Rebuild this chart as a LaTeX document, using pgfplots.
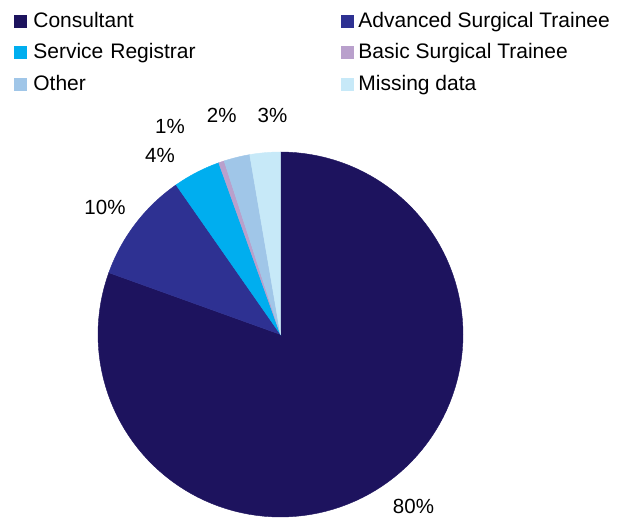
\documentclass[border=0pt]{standalone}
\usepackage{fontspec}
\setmainfont{Liberation Sans}
\usepackage{pgfplots}
\pgfplotsset{compat=1.18}
\definecolor{cA}{RGB}{29,19,94}
\definecolor{cB}{RGB}{46,49,146}
\definecolor{cC}{RGB}{0,174,239}
\definecolor{cD}{RGB}{185,160,204}
\definecolor{cE}{RGB}{160,198,232}
\definecolor{cF}{RGB}{199,233,248}
% slice values (percent)
\def\vA{80.5}\def\vB{9.8}\def\vC{4.2}\def\vD{0.5}\def\vE{2.3}\def\vF{2.7}
\pgfmathsetmacro\aA{90-3.6*\vA}
\pgfmathsetmacro\aB{\aA-3.6*\vB}
\pgfmathsetmacro\aC{\aB-3.6*\vC}
\pgfmathsetmacro\aD{\aC-3.6*\vD}
\pgfmathsetmacro\aE{\aD-3.6*\vE}
\pgfmathsetmacro\aF{\aE-3.6*\vF}
\def\cx{280.5}\def\cy{334.5}\def\rr{182.5}
\begin{document}
\begin{tikzpicture}
\begin{axis}[
  width=619bp, height=523bp, scale only axis,
  xmin=0, xmax=619, ymin=0, ymax=523, y dir=reverse,
  hide axis, clip=false,
  samples=120, variable=\t,
  legend columns=2,
  legend cell align=left,
  legend image code/.code={\fill[#1] (0bp,-6bp) rectangle (12bp,6bp);},
  legend style={
    at={(axis description cs:0.0226,0.9795)}, anchor=north west,
    draw=none, fill=none, inner sep=0pt, outer sep=0pt,
    font=\fontsize{21bp}{24bp}\selectfont,
    row sep=10.8bp,
    nodes={inner sep=0pt, anchor=west, text height=16.6bp, text depth=4bp},
    /tikz/column 1/.style={column sep=7bp},
    /tikz/column 2/.style={column sep=137.7bp, nodes={text width=170bp, align=left}},
    /tikz/column 3/.style={column sep=5bp},
  },
]
\addplot[fill=cA, draw=cA, line width=0.4bp, domain=\aA:90] ({\cx+\rr*cos(\t)},{\cy-\rr*sin(\t)}) -- (axis cs:\cx,\cy) -- cycle;
\addlegendentry{Consultant}
\addplot[fill=cB, draw=cB, line width=0.4bp, domain=\aB:\aA] ({\cx+\rr*cos(\t)},{\cy-\rr*sin(\t)}) -- (axis cs:\cx,\cy) -- cycle;
\addlegendentry{Advanced Surgical Trainee}
\addplot[fill=cC, draw=cC, line width=0.4bp, domain=\aC:\aB] ({\cx+\rr*cos(\t)},{\cy-\rr*sin(\t)}) -- (axis cs:\cx,\cy) -- cycle;
\addlegendentry{Service Registrar}
\addplot[fill=cD, draw=cD, line width=0.4bp, domain=\aD:\aC, samples=10] ({\cx+\rr*cos(\t)},{\cy-\rr*sin(\t)}) -- (axis cs:\cx,\cy) -- cycle;
\addlegendentry{Basic Surgical Trainee}
\addplot[fill=cE, draw=cE, line width=0.4bp, domain=\aE:\aD, samples=20] ({\cx+\rr*cos(\t)},{\cy-\rr*sin(\t)}) -- (axis cs:\cx,\cy) -- cycle;
\addlegendentry{Other}
\addplot[fill=cF, draw=cF, line width=0.4bp, domain=\aF:\aE, samples=20] ({\cx+\rr*cos(\t)},{\cy-\rr*sin(\t)}) -- (axis cs:\cx,\cy) -- cycle;
\addlegendentry{Missing data}
\begin{scope}[every node/.style={font=\fontsize{20.5bp}{24bp}\selectfont, inner sep=0pt}]
\node at (axis cs:413.5,506) {80\%};
\node at (axis cs:105,207) {10\%};
\node at (axis cs:160,155) {4\%};
\node at (axis cs:170,126) {1\%};
\node at (axis cs:221.7,115) {2\%};
\node at (axis cs:272.5,115) {3\%};
\end{scope}
\end{axis}
\pgfresetboundingbox
\path (0,0) rectangle (619bp,523bp);
\end{tikzpicture}
\end{document}
